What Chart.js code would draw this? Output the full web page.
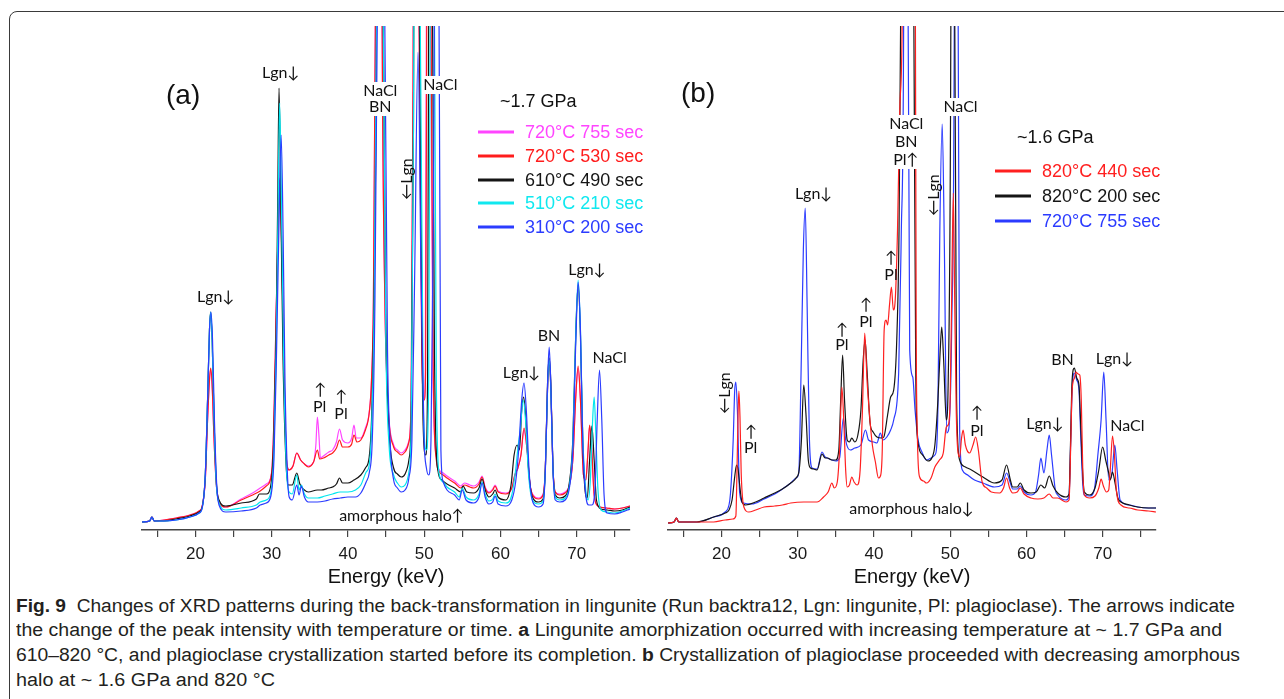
<!DOCTYPE html>
<html>
<head>
<meta charset="utf-8">
<script src="https://cdn.jsdelivr.net/npm/chart.js@4.4.1/dist/chart.umd.min.js"></script>
<style>
  body { margin: 0; background: #fff; }
  #page { position: relative; width: 1284px; height: 699px; overflow: hidden; font-family: "Liberation Sans", Arial, sans-serif; }
  #frame { position: absolute; left: 9px; top: 11px; width: 1320px; height: 740px; border: 1.4px solid #3a3a3a; border-radius: 8px; }
  canvas { position: absolute; top: 20px; }
  .panel { position: absolute; font-size: 28px; color: #111; line-height: 1; }
  .gpa { position: absolute; font-size: 18px; color: #111; line-height: 1; transform: translateY(-50%); }
  .leg { position: absolute; font-size: 18px; line-height: 1; white-space: nowrap; transform: translateY(-50%); }
  .sw { position: absolute; height: 3px; width: 36px; transform: translateY(-50%); }
  .cap { position: absolute; left: 16px; font-size: 18px; color: #231f20; white-space: nowrap; line-height: 1; transform-origin: 0 50%; }
</style>
</head>
<body>
<div id="page">
  <div id="frame"></div>
  <canvas id="chartA" width="510" height="569" style="left:130px"></canvas>
  <canvas id="chartB" width="510" height="569" style="left:656px"></canvas>

  <div class="panel" style="left:166px; top:81px">(a)</div>
  <div class="panel" style="left:681px; top:79px">(b)</div>

  <div id="legendA"></div>
  <div id="legendB"></div>

  <div class="cap" id="cap1" style="top:597px"><b>Fig. 9</b>&nbsp; Changes of XRD patterns during the back-transformation in lingunite (Run backtra12, Lgn: lingunite, Pl: plagioclase). The arrows indicate</div>
  <div class="cap" id="cap2" style="top:621px">the change of the peak intensity with temperature or time. <b>a</b> Lingunite amorphization occurred with increasing temperature at ~ 1.7 GPa and</div>
  <div class="cap" id="cap3" style="top:646px">610–820 °C, and plagioclase crystallization started before its completion. <b>b</b> Crystallization of plagioclase proceeded with decreasing amorphous</div>
  <div class="cap" id="cap4" style="top:671px">halo at ~ 1.6 GPa and 820 °C</div>
</div>

<script>
// 能量轴刻度
const tickValues = [15, 20, 25, 30, 35, 40, 45, 50, 55, 60, 65, 70, 75];
const tickLabels = ['', '20', '', '30', '', '40', '', '50', '', '60', '', '70', ''];

// (a) ~1.7 GPa 图例
const legendA = ['720°C 755 sec', '720°C 530 sec', '610°C 490 sec', '510°C 210 sec', '310°C 200 sec'];
// (b) ~1.6 GPa 图例
const legendB = ['820°C 440 sec', '820°C 200 sec', '720°C 755 sec'];

// (a) 谱线 [能量 keV, 强度 a.u.]，超出上限的峰顶取 1600
const a310 = [[13.0, 8], [14.0, 9], [14.3, 13], [14.6, 9], [15.9, 9], [17.5, 10], [19.3, 13], [20.5, 17], [20.9, 22], [21.3, 55], [21.6, 130], [21.85, 200], [22.05, 218], [22.25, 190], [22.5, 110], [22.8, 45], [23.1, 25], [24.0, 18], [26.0, 19], [28.0, 22], [28.5, 25], [29.3, 27], [29.9, 34], [30.3, 70], [30.6, 160], [30.95, 300], [31.25, 395], [31.5, 300], [31.75, 150], [32.05, 60], [32.3, 33], [32.7, 30], [33.3, 45], [33.6, 35], [33.9, 44], [34.3, 33], [34.8, 28], [36.0, 28], [37.0, 29], [38.0, 31], [39.0, 32], [40.0, 33], [41.0, 33], [41.7, 37], [42.4, 48], [42.8, 57], [43.2, 90], [43.5, 200], [43.85, 500], [44.35, 1600], [44.85, 500], [45.2, 180], [45.6, 80], [46.0, 50], [46.5, 42], [47.0, 38], [47.5, 40], [48.0, 52], [48.4, 90], [48.75, 250], [49.2, 478], [49.6, 250], [50.0, 90], [50.3, 62], [50.6, 55], [50.9, 90], [51.2, 300], [51.35, 520], [51.65, 1600], [51.95, 520], [52.2, 80], [52.5, 48], [53.0, 40], [54.0, 35], [54.6, 30], [55.0, 40], [55.5, 30], [56.5, 27], [57.2, 33], [57.6, 47], [58.0, 33], [58.5, 26], [59.0, 28], [59.3, 34], [59.7, 26], [60.7, 24], [61.5, 30], [62.0, 48], [62.4, 80], [62.8, 130], [63.1, 147], [63.4, 120], [63.8, 55], [64.3, 27], [65.0, 23], [65.6, 26], [65.9, 60], [66.2, 150], [66.4, 183], [66.6, 150], [66.9, 60], [67.2, 30], [67.8, 28], [68.5, 30], [69.0, 40], [69.5, 80], [69.9, 190], [70.2, 248], [70.5, 200], [70.8, 90], [71.2, 35], [71.6, 25], [72.0, 25], [72.4, 40], [72.7, 110], [73.0, 160], [73.3, 110], [73.6, 35], [74.0, 17], [75.0, 16], [76.0, 18], [77.0, 21]];
const a510 = [[13.0, 8], [14.0, 9], [14.3, 13], [14.6, 9], [15.9, 9], [17.5, 10], [19.3, 13], [20.5, 17], [20.9, 22], [21.3, 55], [21.6, 130], [21.85, 200], [22.0, 218], [22.2, 190], [22.45, 110], [22.75, 45], [23.1, 27], [24.0, 20], [26.0, 22], [28.0, 25], [28.5, 28], [29.3, 30], [29.9, 38], [30.3, 80], [30.6, 180], [30.85, 320], [31.05, 427], [31.3, 320], [31.6, 160], [31.95, 60], [32.3, 38], [32.7, 36], [33.3, 55], [33.6, 40], [33.9, 45], [34.3, 36], [34.8, 32], [36.0, 32], [37.0, 34], [38.0, 36], [39.0, 38], [40.0, 38], [41.0, 40], [41.7, 45], [42.4, 58], [42.8, 65], [43.1, 100], [43.4, 200], [43.75, 500], [44.2, 1600], [44.65, 500], [45.0, 180], [45.4, 85], [46.0, 55], [46.5, 47], [47.0, 43], [47.5, 45], [48.0, 58], [48.3, 100], [48.6, 400], [49.1, 1600], [49.5, 500], [49.9, 120], [50.3, 80], [50.6, 150], [50.8, 520], [51.05, 1600], [51.35, 520], [51.6, 150], [52.0, 55], [52.5, 48], [53.0, 43], [54.0, 38], [54.6, 33], [55.0, 42], [55.5, 33], [56.5, 30], [57.2, 36], [57.6, 48], [58.0, 36], [58.5, 29], [59.0, 31], [59.3, 36], [59.7, 29], [60.7, 27], [61.5, 35], [62.0, 60], [62.3, 82], [62.6, 100], [63.0, 130], [63.3, 110], [63.7, 55], [64.2, 30], [65.0, 26], [65.6, 29], [65.9, 60], [66.2, 145], [66.4, 170], [66.6, 145], [66.9, 60], [67.2, 33], [67.8, 30], [68.5, 32], [69.0, 42], [69.5, 85], [69.9, 200], [70.2, 250], [70.5, 200], [70.8, 95], [71.2, 40], [71.5, 30], [71.8, 50], [72.1, 110], [72.3, 133], [72.5, 100], [72.8, 40], [73.2, 20], [74.0, 18], [75.0, 17], [76.0, 19], [77.0, 22]];
const a610 = [[13.0, 8], [14.0, 9], [14.3, 13], [14.6, 9], [15.9, 9], [17.5, 11], [19.3, 14], [20.5, 18], [20.9, 23], [21.3, 55], [21.6, 130], [21.85, 200], [22.0, 218], [22.2, 190], [22.45, 110], [22.75, 48], [23.1, 30], [24.0, 24], [26.0, 27], [28.0, 31], [28.4, 36], [29.3, 36], [29.9, 45], [30.3, 95], [30.6, 200], [30.8, 330], [30.97, 442], [31.2, 330], [31.5, 170], [31.9, 65], [32.2, 45], [32.7, 45], [33.3, 57], [33.7, 46], [34.3, 40], [34.8, 38], [36.0, 40], [36.5, 40], [37.5, 42], [38.0, 43], [38.5, 46], [38.9, 52], [39.3, 47], [40.0, 47], [40.8, 50], [41.7, 55], [42.3, 62], [42.8, 73], [43.1, 110], [43.4, 220], [43.75, 500], [44.2, 1600], [44.65, 500], [45.0, 200], [45.4, 100], [46.0, 62], [46.5, 56], [47.0, 53], [47.5, 56], [48.0, 70], [48.3, 110], [48.6, 400], [49.0, 1600], [49.4, 500], [49.8, 130], [50.2, 75], [50.45, 150], [50.6, 520], [50.85, 1600], [51.1, 520], [51.4, 150], [51.8, 60], [52.3, 50], [53.0, 46], [54.0, 42], [54.8, 38], [55.1, 44], [55.6, 38], [56.5, 37], [57.2, 42], [57.6, 51], [58.0, 40], [58.5, 33], [59.0, 36], [59.3, 40], [59.7, 33], [60.7, 30], [61.4, 45], [61.8, 75], [62.2, 85], [62.5, 80], [62.8, 120], [63.05, 133], [63.3, 115], [63.7, 60], [64.2, 33], [65.0, 28], [65.6, 31], [65.9, 62], [66.2, 150], [66.4, 172], [66.6, 150], [66.9, 62], [67.2, 35], [67.8, 32], [68.5, 34], [69.0, 45], [69.5, 90], [69.9, 200], [70.2, 245], [70.5, 195], [70.8, 90], [71.1, 40], [71.4, 32], [71.7, 70], [72.0, 104], [72.3, 70], [72.6, 30], [73.2, 21], [74.0, 20], [75.0, 19], [76.0, 20], [77.0, 23]];
const a720s530 = [[13.0, 8], [14.0, 9], [14.3, 13], [14.6, 9], [15.9, 10], [17.5, 12], [19.3, 15], [20.5, 19], [20.9, 24], [21.3, 50], [21.6, 110], [21.85, 150], [22.0, 162], [22.2, 145], [22.45, 90], [22.75, 45], [23.1, 28], [24.0, 23], [26.0, 30], [27.5, 35], [28.5, 39], [29.3, 44], [30.0, 57], [30.3, 110], [30.6, 220], [30.85, 300], [31.05, 350], [31.3, 290], [31.6, 170], [31.95, 70], [32.3, 60], [32.8, 64], [33.3, 77], [33.8, 70], [34.3, 66], [34.8, 63], [35.5, 68], [36.0, 80], [36.3, 71], [36.8, 72], [37.5, 75], [38.0, 77], [38.5, 82], [38.9, 90], [39.3, 83], [40.0, 83], [40.5, 86], [40.8, 95], [41.2, 88], [41.7, 90], [42.3, 100], [42.8, 117], [43.1, 150], [43.35, 230], [43.6, 500], [44.05, 1600], [44.5, 500], [44.85, 230], [45.3, 120], [46.0, 83], [46.5, 78], [47.0, 75], [47.5, 78], [48.0, 88], [48.3, 130], [48.55, 450], [48.95, 1600], [49.35, 500], [49.7, 180], [50.0, 130], [50.2, 160], [50.35, 520], [50.6, 1600], [50.9, 520], [51.2, 160], [51.6, 70], [52.0, 58], [52.5, 55], [53.0, 52], [54.0, 47], [54.8, 42], [55.3, 45], [56.0, 43], [56.5, 42], [57.2, 46], [57.6, 53], [58.0, 42], [58.5, 37], [59.0, 40], [59.3, 44], [59.7, 38], [60.7, 36], [61.5, 42], [61.9, 55], [62.3, 62], [62.7, 75], [63.1, 102], [63.5, 80], [63.9, 45], [64.3, 34], [65.0, 31], [65.6, 35], [65.9, 62], [66.2, 145], [66.4, 165], [66.6, 145], [66.9, 62], [67.2, 38], [67.8, 35], [68.5, 37], [69.0, 43], [69.5, 70], [69.9, 135], [70.2, 164], [70.5, 130], [70.9, 55], [71.2, 50], [71.5, 80], [71.7, 105], [71.95, 85], [72.3, 35], [72.8, 24], [73.9, 22], [75.0, 21], [76.0, 22], [77.0, 24]];
const a720s755 = [[13.0, 8], [14.0, 9], [14.3, 13], [14.6, 9], [15.9, 10], [17.5, 12], [19.3, 15], [20.5, 19], [20.9, 24], [21.3, 50], [21.6, 110], [21.85, 150], [22.0, 160], [22.2, 143], [22.45, 90], [22.75, 45], [23.1, 28], [24.0, 23], [26.0, 31], [27.5, 37], [28.5, 42], [29.3, 46], [30.0, 58], [30.3, 110], [30.6, 220], [30.85, 300], [31.05, 352], [31.3, 290], [31.6, 170], [31.95, 70], [32.3, 60], [32.8, 64], [33.3, 77], [33.8, 70], [34.3, 66], [34.8, 64], [35.5, 68], [35.8, 85], [36.0, 113], [36.2, 95], [36.4, 72], [36.8, 74], [37.5, 78], [38.0, 80], [38.5, 88], [38.9, 101], [39.3, 90], [40.0, 87], [40.5, 92], [40.8, 105], [41.1, 92], [41.7, 92], [42.3, 102], [42.8, 118], [43.1, 150], [43.35, 230], [43.6, 500], [44.05, 1600], [44.5, 500], [44.85, 230], [45.3, 122], [46.0, 85], [46.5, 80], [47.0, 77], [47.5, 80], [48.0, 89], [48.3, 130], [48.55, 450], [48.95, 1600], [49.35, 500], [49.7, 180], [50.0, 130], [50.15, 160], [50.3, 520], [50.55, 1600], [50.85, 520], [51.15, 160], [51.6, 72], [52.0, 60], [52.5, 57], [53.0, 54], [54.0, 49], [54.8, 44], [55.3, 47], [56.0, 45], [56.5, 44], [57.2, 48], [57.6, 54], [58.0, 43], [58.5, 38], [59.0, 41], [59.3, 45], [59.7, 39], [60.7, 37], [61.5, 42], [61.9, 55], [62.3, 62], [62.7, 75], [63.1, 100], [63.5, 80], [63.9, 45], [64.3, 35], [65.0, 32], [65.6, 36], [65.9, 62], [66.2, 145], [66.4, 165], [66.6, 145], [66.9, 62], [67.2, 38], [67.8, 36], [68.5, 38], [69.0, 44], [69.5, 70], [69.9, 135], [70.2, 162], [70.5, 130], [70.9, 55], [71.2, 50], [71.5, 80], [71.7, 104], [71.95, 85], [72.3, 35], [72.8, 24], [73.9, 22], [75.0, 21], [76.0, 22], [77.0, 24]];

// (b) 谱线
const b820s440 = [[13.0, 7], [13.8, 8], [14.1, 12], [14.4, 8], [16.8, 8], [19.0, 8], [20.5, 10], [21.5, 11], [21.9, 14], [22.05, 60], [22.2, 120], [22.3, 139], [22.45, 110], [22.6, 57], [22.8, 30], [22.95, 23], [23.6, 18], [24.5, 20], [25.6, 23], [27.0, 24], [28.0, 25], [29.1, 27], [30.8, 28], [32.0, 28], [32.55, 28], [33.4, 33], [34.0, 38], [34.5, 47], [34.8, 42], [35.2, 48], [35.5, 80], [35.8, 143], [36.05, 110], [36.3, 60], [36.5, 43], [36.8, 45], [37.1, 53], [37.4, 48], [37.8, 45], [38.2, 60], [38.5, 120], [38.8, 197], [39.1, 150], [39.4, 118], [39.8, 85], [40.2, 68], [40.6, 52], [40.9, 55], [41.1, 80], [41.35, 200], [41.6, 210], [41.8, 205], [42.05, 225], [42.3, 243], [42.55, 220], [42.8, 230], [43.1, 300], [43.4, 420], [43.7, 500], [44.6, 1600], [45.45, 500], [45.55, 200], [45.7, 96], [46.0, 53], [46.5, 49], [46.9, 47], [47.5, 52], [48.0, 63], [48.6, 70], [49.1, 77], [49.5, 103], [49.8, 106], [50.0, 130], [50.2, 230], [50.42, 337], [50.6, 230], [50.8, 120], [51.0, 80], [51.25, 73], [51.5, 92], [51.7, 100], [52.0, 85], [52.55, 77], [53.0, 85], [53.35, 93], [53.7, 80], [54.2, 48], [54.8, 42], [55.4, 38], [56.5, 37], [57.0, 42], [57.4, 52], [57.8, 42], [58.2, 37], [58.8, 38], [59.2, 42], [59.7, 36], [60.6, 32], [61.5, 31], [62.3, 32], [63.0, 36], [63.5, 32], [64.1, 32], [65.2, 28], [65.6, 30], [65.8, 80], [66.0, 140], [66.3, 152], [66.5, 158], [66.8, 156], [67.0, 155], [67.2, 130], [67.4, 60], [67.6, 35], [68.3, 32], [69.0, 34], [69.5, 42], [69.8, 51], [70.1, 44], [70.5, 38], [70.8, 40], [71.0, 60], [71.3, 94], [71.55, 75], [71.8, 40], [72.4, 25], [73.5, 22], [74.6, 20], [76.0, 19], [77.0, 18]];
const b820s200 = [[13.0, 7], [13.8, 8], [14.1, 12], [14.4, 8], [16.8, 8], [19.0, 13], [20.5, 17], [21.0, 20], [21.4, 30], [21.7, 50], [21.9, 62], [22.0, 65], [22.2, 60], [22.4, 45], [22.7, 28], [23.2, 25], [24.5, 28], [25.6, 32], [27.0, 37], [28.0, 41], [29.1, 47], [29.8, 52], [30.2, 60], [30.5, 90], [30.8, 145], [31.1, 115], [31.4, 70], [31.7, 62], [32.1, 61], [32.55, 60], [33.2, 76], [33.6, 72], [33.9, 72], [34.5, 70], [35.0, 70], [35.4, 80], [35.65, 130], [35.9, 175], [36.15, 130], [36.5, 90], [36.8, 88], [37.1, 92], [37.5, 88], [37.9, 95], [38.3, 120], [38.6, 170], [38.85, 190], [39.1, 160], [39.5, 107], [39.9, 98], [40.4, 93], [41.0, 92], [41.3, 93], [41.8, 115], [42.2, 133], [42.6, 140], [43.0, 190], [43.3, 300], [43.5, 500], [44.3, 1600], [45.25, 500], [45.5, 150], [45.8, 87], [46.4, 75], [47.1, 69], [47.6, 72], [48.0, 85], [48.4, 130], [48.7, 180], [48.9, 203], [49.15, 170], [49.5, 110], [49.75, 150], [50.1, 520], [50.35, 1600], [50.6, 520], [50.85, 130], [51.25, 70], [52.0, 63], [52.8, 60], [54.3, 53], [55.8, 47], [56.8, 50], [57.4, 65], [57.9, 50], [58.2, 43], [58.8, 43], [59.2, 47], [59.7, 40], [60.6, 37], [61.3, 38], [61.9, 45], [62.4, 42], [63.0, 54], [63.5, 44], [64.1, 37], [65.2, 33], [65.6, 36], [65.8, 90], [66.0, 150], [66.3, 162], [66.6, 152], [66.9, 145], [67.1, 110], [67.4, 55], [67.6, 38], [68.3, 35], [69.0, 42], [69.5, 60], [70.0, 83], [70.4, 70], [70.8, 57], [71.0, 50], [71.3, 58], [71.6, 48], [72.0, 32], [72.4, 28], [73.5, 25], [74.6, 23], [76.0, 22], [77.0, 22]];
const b720s755 = [[13.0, 7], [13.8, 8], [14.1, 12], [14.4, 8], [16.8, 8], [19.0, 13], [20.5, 18], [21.0, 25], [21.2, 37], [21.55, 90], [21.75, 140], [21.9, 148], [22.1, 120], [22.4, 37], [22.9, 27], [24.0, 26], [25.6, 31], [27.0, 36], [28.0, 41], [29.1, 47], [29.8, 52], [30.15, 57], [30.45, 157], [30.75, 280], [31.0, 322], [31.25, 223], [31.55, 90], [31.9, 62], [32.55, 61], [33.2, 78], [33.6, 73], [33.9, 72], [34.5, 70], [35.0, 69], [35.5, 72], [36.0, 112], [36.3, 90], [36.9, 80], [37.5, 82], [38.3, 85], [38.9, 100], [39.3, 90], [40.0, 88], [40.4, 87], [40.85, 97], [41.2, 90], [41.7, 93], [42.2, 100], [42.6, 110], [43.25, 157], [43.6, 300], [43.9, 500], [44.2, 1600], [44.5, 500], [44.7, 180], [45.1, 153], [45.4, 120], [45.8, 90], [46.3, 78], [46.9, 70], [47.5, 72], [48.0, 75], [48.2, 80], [48.4, 123], [48.65, 300], [48.96, 406], [49.25, 280], [49.55, 97], [49.8, 100], [50.2, 200], [50.55, 520], [50.8, 1600], [51.05, 520], [51.25, 100], [51.6, 60], [52.3, 55], [53.2, 50], [54.3, 47], [55.8, 43], [56.8, 45], [57.4, 57], [57.9, 47], [58.2, 41], [58.8, 41], [59.2, 44], [59.7, 38], [60.6, 35], [61.2, 38], [61.6, 55], [61.9, 72], [62.3, 57], [62.7, 80], [63.0, 95], [63.3, 75], [63.8, 40], [64.1, 35], [65.2, 30], [65.6, 34], [65.8, 85], [66.0, 140], [66.3, 157], [66.6, 150], [66.9, 140], [67.1, 100], [67.4, 45], [67.6, 35], [68.3, 34], [68.9, 40], [69.4, 77], [69.8, 110], [70.15, 158], [70.45, 110], [70.8, 50], [71.2, 55], [71.6, 85], [71.9, 60], [72.3, 30], [73.5, 25], [74.6, 23], [76.0, 22], [77.0, 22]];

// 峰标注（能量, 强度）
const labelsA = [
  { t: 'Lgn↓', x: 22.66, y: 233 },
  { t: 'Lgn↓', x: 31.2, y: 457 },
  { t: 'NaCl', x: 44.25, y: 439, bg: true },
  { t: 'BN', x: 44.25, y: 423, bg: true },
  { t: 'NaCl', x: 52.13, y: 445, bg: true },
  { t: '←Lgn', x: 47.69, y: 351, rot: true },
  { t: '↑', x: 36.4, y: 140 }, { t: 'Pl', x: 36.3, y: 123 },
  { t: '↑', x: 39.16, y: 133 }, { t: 'Pl', x: 39.1, y: 116 },
  { t: 'amorphous halo↑', x: 47.03, y: 14 },
  { t: 'Lgn↓', x: 62.78, y: 157 },
  { t: 'BN', x: 66.37, y: 194 },
  { t: 'Lgn↓', x: 71.35, y: 260 },
  { t: 'NaCl', x: 74.33, y: 172 }
];
const labelsB = [
  { t: 'NaCl', x: 44.25, y: 406, bg: true },
  { t: 'BN', x: 44.25, y: 388, bg: true },
  { t: 'Pl↑', x: 44.2, y: 370, bg: true },
  { t: 'NaCl', x: 51.36, y: 423, bg: true },
  { t: '←Lgn', x: 47.82, y: 335, rot: true },
  { t: 'Lgn↓', x: 32.1, y: 336 },
  { t: '↑', x: 42.28, y: 272 }, { t: 'Pl', x: 42.25, y: 255 },
  { t: '↑', x: 39.0, y: 225 }, { t: 'Pl', x: 38.95, y: 208 },
  { t: '↑', x: 35.86, y: 200 }, { t: 'Pl', x: 35.8, y: 185 },
  { t: '←Lgn', x: 20.43, y: 137, rot: true },
  { t: '↑', x: 23.93, y: 98 }, { t: 'Pl', x: 23.85, y: 82 },
  { t: 'amorphous halo↓', x: 44.94, y: 21 },
  { t: '↑', x: 53.55, y: 117 }, { t: 'Pl', x: 53.5, y: 99 },
  { t: 'Lgn↓', x: 62.44, y: 106 },
  { t: 'BN', x: 64.73, y: 170 },
  { t: 'Lgn↓', x: 71.55, y: 171 },
  { t: 'NaCl', x: 73.25, y: 104 }
];

// 颜色
const colorsA = ['#ff45ff', '#ff1c1c', '#151515', '#00e6ee', '#2b3cff'];
const colorsB = ['#ff2020', '#151515', '#2b3bff'];

function toPoints(arr) {
  return arr.map(p => ({ x: p[0], y: p[1] }));
}

// 标注插件
function makeLabelPlugin(items) {
  return {
    id: 'peakLabels',
    afterDatasetsDraw(chart) {
      const { ctx, scales } = chart;
      ctx.save();
      ctx.font = '16px Lato, "DejaVu Sans", sans-serif';
      ctx.textAlign = 'center';
      ctx.textBaseline = 'middle';
      items.forEach(a => {
        const px = scales.x.getPixelForValue(a.x);
        const py = scales.y.getPixelForValue(a.y);
        ctx.save();
        ctx.translate(px, py);
        if (a.rot) ctx.rotate(-Math.PI / 2);
        if (a.bg) {
          const w = ctx.measureText(a.t).width;
          ctx.fillStyle = '#fff';
          ctx.fillRect(-w / 2 - 1, -9, w + 2, 18);
        }
        ctx.fillStyle = '#111';
        ctx.fillText(a.t, 0, 0);
        ctx.restore();
      });
      ctx.restore();
    }
  };
}

function makeChart(id, datasets, items) {
  return new Chart(document.getElementById(id), {
    type: 'line',
    data: { datasets },
    options: {
      responsive: false,
      animation: false,
      events: [],
      layout: { padding: { left: 12, right: 10, top: 6, bottom: 0 } },
      elements: {
        point: { radius: 0 },
        line: { borderWidth: 1.2, cubicInterpolationMode: 'monotone' }
      },
      plugins: { legend: { display: false }, tooltip: { enabled: false } },
      scales: {
        x: {
          type: 'linear',
          min: 13,
          max: 77,
          afterBuildTicks: s => { s.ticks = tickValues.map(v => ({ value: v })); },
          afterFit: s => { s.height = 59; },
          ticks: {
            autoSkip: false,
            maxRotation: 0,
            padding: 7,
            color: '#1a1a1a',
            font: { family: '"Liberation Sans", Arial', size: 17 },
            callback: (v) => { const i = tickValues.indexOf(v); return i >= 0 ? tickLabels[i] : ''; }
          },
          grid: { drawOnChartArea: false, drawTicks: true, tickLength: 7, color: '#444', lineWidth: 1.2 },
          border: { display: true, color: '#444', width: 1.4 },
          title: {
            display: true,
            text: 'Energy (keV)',
            color: '#111',
            padding: 0,
            font: { family: '"Liberation Sans", Arial', size: 20 }
          }
        },
        y: { display: false, min: 0, max: 504 }
      }
    },
    plugins: [makeLabelPlugin(items)]
  });
}

// (a) 蓝线在最上层
makeChart('chartA', [
  { label: legendA[4], data: toPoints(a310), borderColor: colorsA[4] },
  { label: legendA[3], data: toPoints(a510), borderColor: colorsA[3] },
  { label: legendA[2], data: toPoints(a610), borderColor: colorsA[2] },
  { label: legendA[1], data: toPoints(a720s530), borderColor: colorsA[1] },
  { label: legendA[0], data: toPoints(a720s755), borderColor: colorsA[0] }
], labelsA);

makeChart('chartB', [
  { label: legendB[0], data: toPoints(b820s440), borderColor: colorsB[0] },
  { label: legendB[1], data: toPoints(b820s200), borderColor: colorsB[1] },
  { label: legendB[2], data: toPoints(b720s755), borderColor: colorsB[2] }
], labelsB);

// 图例
function buildLegend(boxId, title, names, colors, x0, yTitle, ys) {
  const box = document.getElementById(boxId);
  let html = '<div class="gpa" style="left:' + (x0 + 22) + 'px; top:' + yTitle + 'px">' + title + '</div>';
  names.forEach((n, i) => {
    html += '<div class="sw" style="left:' + x0 + 'px; top:' + ys[i] + 'px; background:' + colors[i] + '"></div>';
    html += '<div class="leg" style="left:' + (x0 + 47) + 'px; top:' + ys[i] + 'px; color:' + colors[i] + '">' + n + '</div>';
  });
  box.innerHTML = html;
}
buildLegend('legendA', '~1.7 GPa', legendA, ['#ff45ff', '#ff1c1c', '#151515', '#10e8ef', '#2b3cff'], 478, 101, [132, 156, 180, 203, 227]);
buildLegend('legendB', '~1.6 GPa', legendB, colorsB, 995, 137, [171, 196, 221]);

// 图注行宽对齐
const capWidths = { cap1: 1219, cap2: 1206, cap3: 1224, cap4: 259 };
Object.keys(capWidths).forEach(id => {
  const el = document.getElementById(id);
  const w = el.getBoundingClientRect().width;
  el.style.transform = 'scaleX(' + (capWidths[id] / w) + ')';
});
</script>
</body>
</html>
